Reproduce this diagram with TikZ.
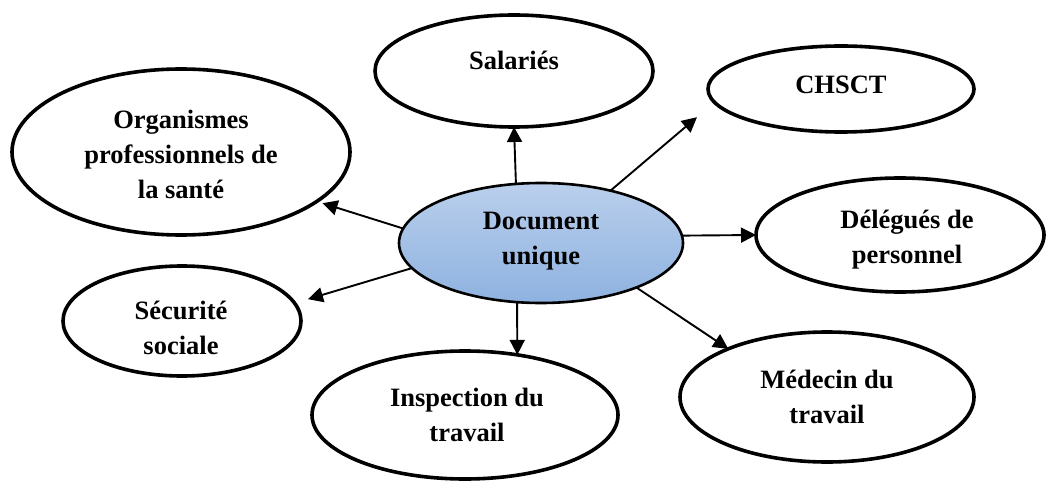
\documentclass[tikz,border=0pt]{standalone}
\usepackage{fontspec}
\setmainfont{Liberation Serif}
\usetikzlibrary{shapes.geometric,arrows.meta}
\definecolor{ctop}{RGB}{186,207,236}
\definecolor{cbot}{RGB}{142,178,224}
\begin{document}
\begin{tikzpicture}[x=1pt,y=-1pt,
  oval/.style={ellipse, draw=black, line width=3.6pt, inner sep=0pt, outer sep=0pt},
  lbl/.style={align=center, font=\fontsize{26.5}{35}\selectfont\bfseries, inner sep=0pt},
  arr/.style={line width=1.9pt, -{Triangle[length=15pt,width=15pt]}}]
\useasboundingbox (0,0) rectangle (1046,481);
% outer ellipses
\node[oval, minimum width=278pt, minimum height=112pt] (sal) at (514,71) {};
\node[oval, minimum width=266pt, minimum height=86pt] (ch) at (841,89) {};
\node[oval, minimum width=338pt, minimum height=166pt] (org) at (181,152) {};
\node[oval, minimum width=288pt, minimum height=114pt] (del) at (900,235) {};
\node[oval, minimum width=238pt, minimum height=110pt] (sec) at (182,321) {};
\node[oval, minimum width=306pt, minimum height=128pt] (ins) at (465,415) {};
\node[oval, minimum width=294pt, minimum height=130pt] (med) at (827,397) {};
% central ellipse
\node[ellipse, draw=black, line width=2.6pt, inner sep=0pt, outer sep=0pt,
  top color=ctop, bottom color=cbot,
  minimum width=284pt, minimum height=120pt] (c) at (541,243) {};
% labels
\node[lbl] (tsal) at (514,60) {Salariés};
\node[lbl] (tch) at (841,85) {CHSCT};
\node[lbl] (torg) at (181,154) {Organismes\\professionnels de\\la santé};
\node[lbl] (tc) at (541,241) {Document\\unique};
\node[lbl] (tdel) at (907,240) {Délégués de\\personnel};
\node[lbl] (tsec) at (181,328) {Sécurité\\sociale};
\node[lbl] (tins) at (467,415) {Inspection du\\travail};
\node[lbl] (tmed) at (827,397) {Médecin du\\travail};
% arrows
\draw[arr] (c.113) -- (sal.south);
\draw[arr, shorten >=23pt] (c.37) -- (ch.186.6);
\draw[arr, shorten >=6pt] (c.174) -- (org.340.2);
\draw[arr] (c.3.25) -- (del.west);
\draw[arr, shorten >=14pt] (c.191.6) -- (sec.9.8);
\draw[arr] (c.248.8) -- (ins.49);
\draw[arr] (c.335) -- (med.154.5);
\end{tikzpicture}
\end{document}
